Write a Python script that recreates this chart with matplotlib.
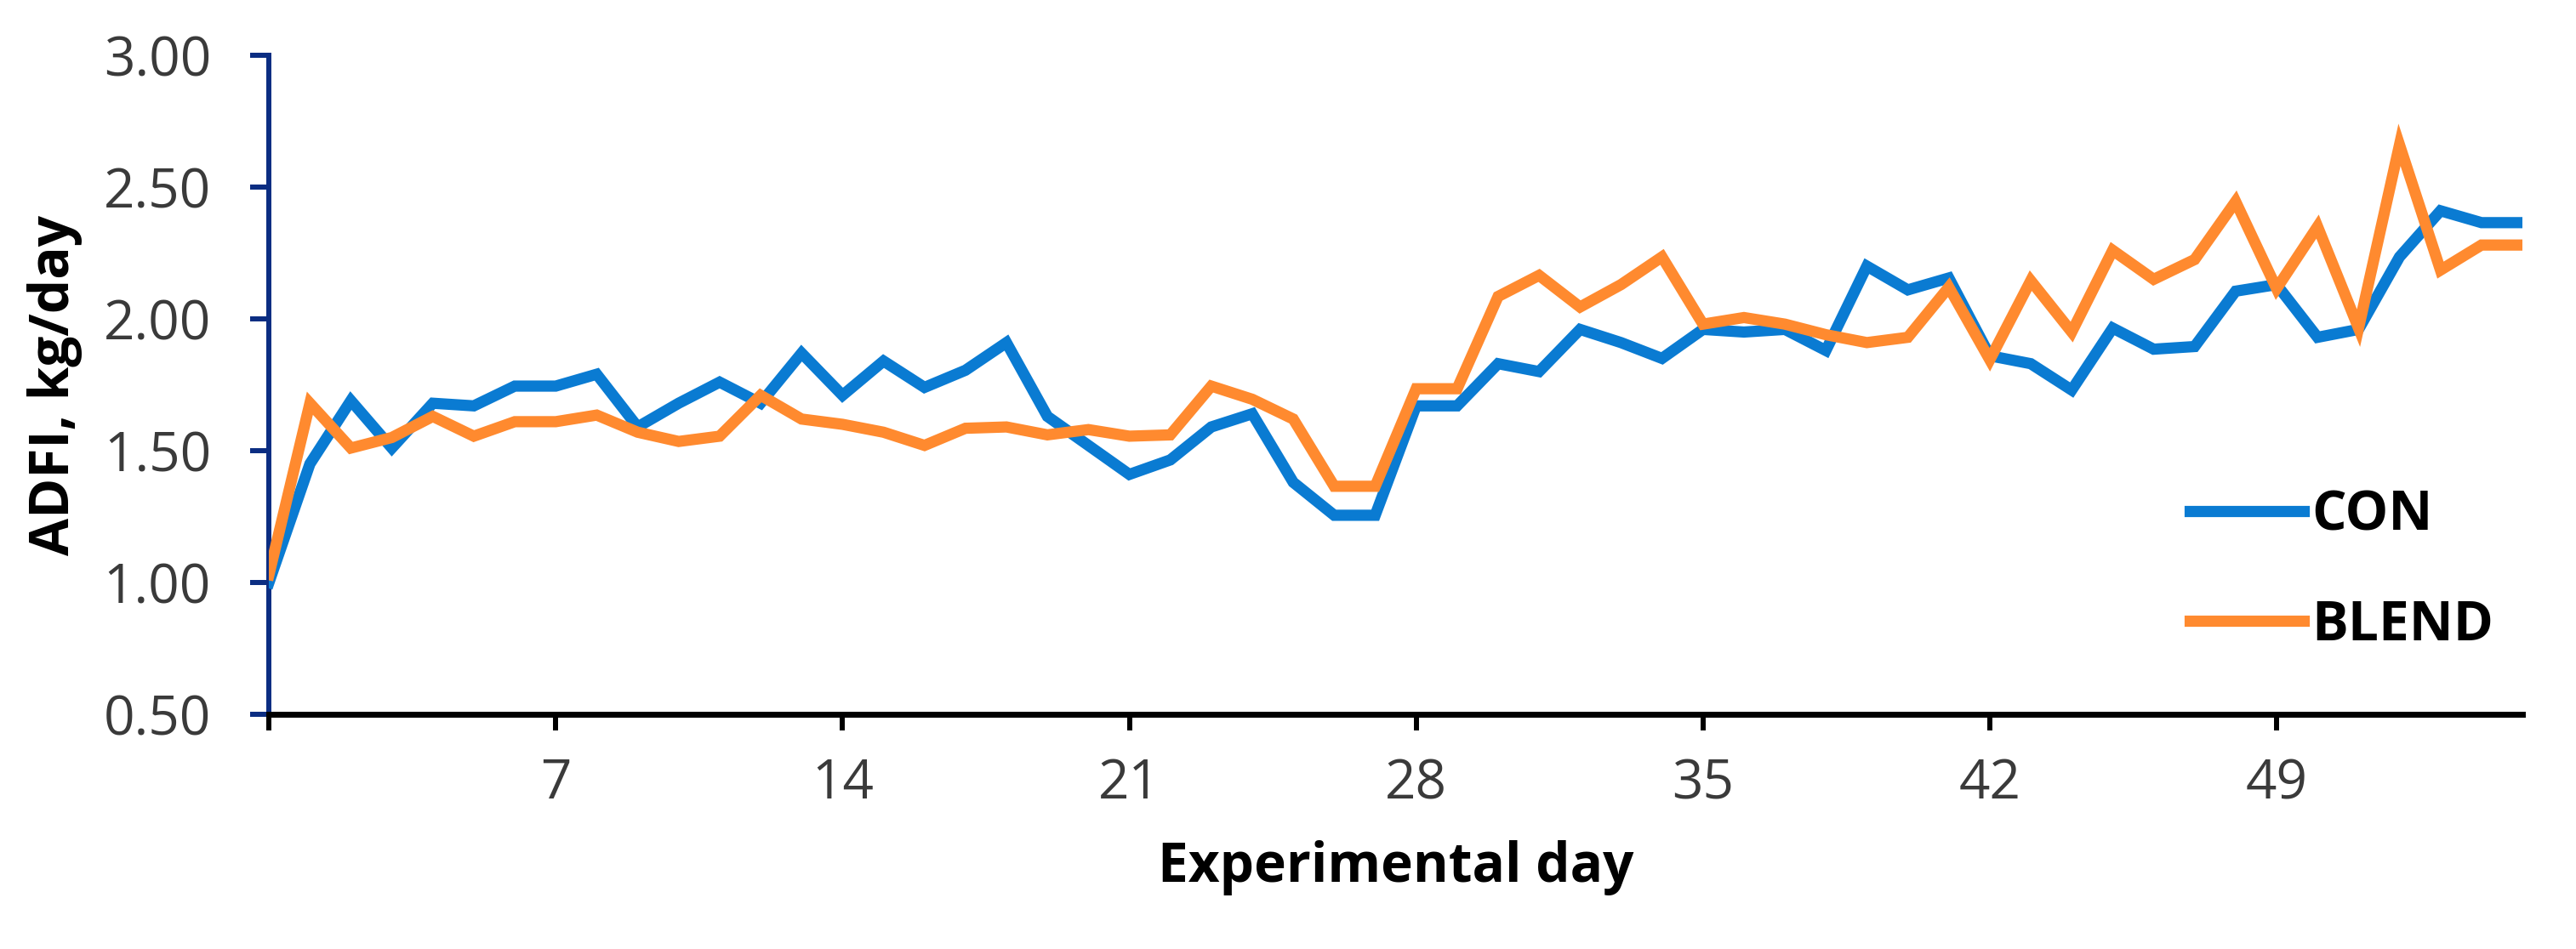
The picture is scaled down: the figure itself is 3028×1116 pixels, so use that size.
import matplotlib
matplotlib.use("Agg")
import matplotlib.pyplot as plt
import numpy as np

plt.rcParams["font.family"] = ["Open Sans", "DejaVu Sans"]

# ADFI (kg/day), one value per experimental day 0..55
days = np.arange(0, 56)
con = [1.00, 1.45, 1.69, 1.51, 1.68, 1.67, 1.745, 1.745, 1.79, 1.59,
       1.68, 1.76, 1.68, 1.87, 1.71, 1.84, 1.74, 1.805, 1.91, 1.63,
       1.52, 1.41, 1.465, 1.59, 1.64, 1.38, 1.255, 1.255, 1.67, 1.67,
       1.83, 1.80, 1.96, 1.91, 1.85, 1.96, 1.95, 1.96, 1.88, 2.20,
       2.11, 2.155, 1.86, 1.83, 1.73, 1.965, 1.885, 1.895, 2.105, 2.13,
       1.93, 1.96, 2.235, 2.41, 2.365, 2.365]
blend = [1.03, 1.68, 1.51, 1.55, 1.63, 1.555, 1.61, 1.61, 1.635, 1.57,
         1.535, 1.555, 1.71, 1.62, 1.60, 1.57, 1.52, 1.585, 1.59, 1.56,
         1.58, 1.555, 1.56, 1.745, 1.695, 1.62, 1.365, 1.365, 1.735, 1.735,
         2.085, 2.165, 2.045, 2.13, 2.235, 1.98, 2.005, 1.98, 1.94, 1.91,
         1.93, 2.12, 1.845, 2.145, 1.95, 2.26, 2.15, 2.225, 2.445, 2.115,
         2.35, 1.965, 2.66, 2.185, 2.28, 2.28]

x_ticks = [0, 7, 14, 21, 28, 35, 42, 49]
x_tick_labels = ["", "7", "14", "21", "28", "35", "42", "49"]
y_ticks = [0.50, 1.00, 1.50, 2.00, 2.50, 3.00]

BLUE = "#0A7BD2"
ORANGE = "#FF8A2F"
NAVY = "#0B2D82"
TICK_GREY = "#3A3A3A"
FS = 46

fig = plt.figure(figsize=(30.28, 11.16), dpi=100)
ax = fig.add_axes([0.1044, 0.2473, 0.8748, 0.6945])

ax.plot(days, con, color=BLUE, lw=9.5, solid_joinstyle="miter", label="CON", zorder=3)
ax.plot(days, blend, color=ORANGE, lw=9.5, solid_joinstyle="miter", label="BLEND", zorder=4)

ax.set_xlim(0, 55)
ax.set_ylim(0.5, 3.0)
ax.set_xticks(x_ticks)
ax.set_xticklabels(x_tick_labels)
ax.set_yticks(y_ticks)
ax.set_yticklabels([f"{v:.2f}" for v in y_ticks])

for side in ("top", "right"):
    ax.spines[side].set_visible(False)
ax.spines["left"].set_color(NAVY)
ax.spines["left"].set_linewidth(4.3)
ax.spines["bottom"].set_color("black")
ax.spines["bottom"].set_linewidth(5)

ax.tick_params(axis="y", direction="out", length=16, width=4.3, color=NAVY,
               labelsize=FS, labelcolor=TICK_GREY, pad=33)
ax.tick_params(axis="x", direction="out", length=14, width=4.3, color="black",
               labelsize=FS, labelcolor=TICK_GREY, pad=22)

ax.set_xlabel("Experimental day", fontsize=FS, fontweight="bold", color="black", va="center")
ax.xaxis.set_label_coords(0.5, -0.233)
ax.set_ylabel("ADFI, kg/day", fontsize=FS, fontweight="bold", color="black", va="center")
ax.yaxis.set_label_coords(-0.0951, 0.5)

leg = ax.legend(loc="upper left", bbox_to_anchor=(0.850, 0.485),
                bbox_transform=fig.transFigure, frameon=False,
                prop={"size": FS, "weight": "bold"}, handlelength=2.1,
                handletextpad=0.15, labelspacing=1.0, borderpad=0,
                borderaxespad=0)

fig.savefig("out.png", dpi=100, facecolor="white")
